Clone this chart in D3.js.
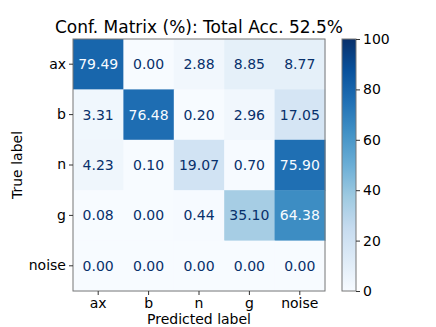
<!DOCTYPE html>
<html>
<head>
<meta charset="utf-8">
<script src="https://cdn.jsdelivr.net/npm/d3@7"></script>
<style>
  body { margin: 0; background: #fff; }
  text { font-family: "DejaVu Sans", sans-serif; }
</style>
</head>
<body>
<div id="chart"></div>
<script>
// class labels (rows = true, cols = predicted)
const classes = ["ax", "b", "n", "g", "noise"];

// confusion matrix rows in percent
const rowAx = [79.49, 0.00, 2.88, 8.85, 8.77];
const rowB = [3.31, 76.48, 0.20, 2.96, 17.05];
const rowN = [4.23, 0.10, 19.07, 0.70, 75.90];
const rowG = [0.08, 0.00, 0.44, 35.10, 64.38];
const rowNoise = [0.00, 0.00, 0.00, 0.00, 0.00];

const colorbarTicks = [0, 20, 40, 60, 80, 100];
const titleText = "Conf. Matrix (%): Total Acc. 52.5%";

const matrix = [rowAx, rowB, rowN, rowG, rowNoise];

const W = 436, H = 327;
const margin = { top: 39, left: 73 };
const size = 252;

// matplotlib Blues stops
const blues = ["#f7fbff", "#deebf7", "#c6dbef", "#9ecae1", "#6baed6",
    "#4292c6", "#2171b5", "#08519c", "#08306b"];
const color = d3.scaleLinear()
    .domain(d3.range(9).map(i => i * 100 / 8))
    .range(blues)
    .clamp(true);

const svg = d3.select("#chart").append("svg")
    .attr("width", W)
    .attr("height", H);

const x = d3.scaleBand().domain(classes).range([0, size]);
const y = d3.scaleBand().domain(classes).range([0, size]);

const g = svg.append("g")
    .attr("transform", `translate(${margin.left},${margin.top})`);

const cells = [];
matrix.forEach((row, i) => row.forEach((v, j) => cells.push({ t: classes[i], p: classes[j], v: v })));

const maxV = d3.max(cells, d => d.v), minV = d3.min(cells, d => d.v);
const thresh = (maxV + minV) / 2;

g.selectAll("rect.cell")
    .data(cells)
    .join("rect")
    .attr("class", "cell")
    .attr("x", d => x(d.p))
    .attr("y", d => y(d.t))
    .attr("width", x.bandwidth() + 0.5)
    .attr("height", y.bandwidth() + 0.5)
    .attr("fill", d => color(d.v));

g.selectAll("text.val")
    .data(cells)
    .join("text")
    .attr("class", "val")
    .attr("x", d => x(d.p) + x.bandwidth() / 2)
    .attr("y", d => y(d.t) + y.bandwidth() / 2)
    .attr("text-anchor", "middle")
    .attr("dominant-baseline", "central")
    .style("font-size", "14px")
    .attr("fill", d => d.v > thresh ? blues[0] : blues[8])
    .text(d => d.v.toFixed(2));

// frame
g.append("rect")
    .attr("width", size).attr("height", size)
    .attr("fill", "none").attr("stroke", "#777").attr("stroke-width", 1);

// axes
const xAxis = g.append("g")
    .attr("transform", `translate(0,${size})`)
    .call(d3.axisBottom(x).tickSize(4).tickPadding(3));
const yAxis = g.append("g")
    .call(d3.axisLeft(y).tickSize(4).tickPadding(3));
[xAxis, yAxis].forEach(a => {
    a.select(".domain").remove();
    a.selectAll("line").attr("stroke", "#333");
    a.selectAll("text").style("font-size", "14px").attr("fill", "#000")
        .style("font-family", "DejaVu Sans");
});

// title and axis labels
svg.append("text")
    .attr("x", margin.left + size / 2)
    .attr("y", 33)
    .attr("text-anchor", "middle")
    .style("font-size", "17px")
    .text(titleText);

svg.append("text")
    .attr("x", margin.left + size / 2)
    .attr("y", 324)
    .attr("text-anchor", "middle")
    .style("font-size", "14px")
    .text("Predicted label");

svg.append("text")
    .attr("transform", `translate(22,${margin.top + size / 2}) rotate(-90)`)
    .attr("text-anchor", "middle")
    .style("font-size", "14px")
    .text("True label");

// colorbar
const cbX = 342, cbW = 14;
const cbScale = d3.scaleLinear().domain([0, 100]).range([margin.top + size, margin.top]);
const defs = svg.append("defs");
const grad = defs.append("linearGradient")
    .attr("id", "cbgrad")
    .attr("x1", 0).attr("y1", 1).attr("x2", 0).attr("y2", 0);
blues.forEach((c, i) => grad.append("stop")
    .attr("offset", i / 8)
    .attr("stop-color", c));
svg.append("rect")
    .attr("x", cbX).attr("y", margin.top)
    .attr("width", cbW).attr("height", size)
    .attr("fill", "url(#cbgrad)")
    .attr("stroke", "#777").attr("stroke-width", 1);
const cbAxis = svg.append("g")
    .attr("transform", `translate(${cbX + cbW},0)`)
    .call(d3.axisRight(cbScale).tickValues(colorbarTicks).tickSize(4).tickPadding(3));
cbAxis.select(".domain").remove();
cbAxis.selectAll("line").attr("stroke", "#333");
cbAxis.selectAll("text").style("font-size", "14px").attr("fill", "#000")
    .style("font-family", "DejaVu Sans");
</script>
</body>
</html>
